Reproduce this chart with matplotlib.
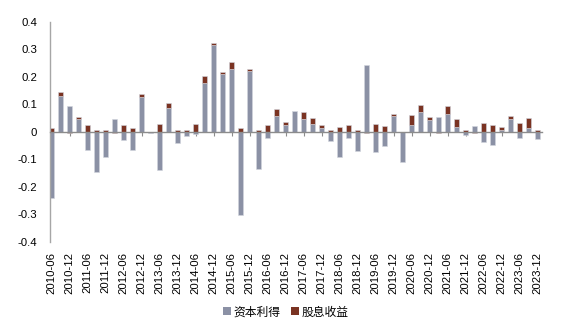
import numpy as np
import pandas as pd
import matplotlib
matplotlib.use("Agg")
import matplotlib.pyplot as plt
from matplotlib.patches import Patch

plt.rcParams['font.family'] = ['Liberation Sans', 'Noto Sans CJK SC', 'DejaVu Sans']

# Quarterly return decomposition, 2010-06 .. 2023-12
quarters = [p.strftime('%Y-%m') for p in pd.period_range('2010Q2', '2023Q4', freq='Q')]

capital_gain = [
    -0.240, 0.130, 0.092, 0.046, -0.067, -0.147, -0.092, 0.048, -0.030, -0.067,
    0.127, -0.006, -0.138, 0.085, -0.042, -0.015, -0.008, 0.177, 0.314, 0.208,
    0.227, -0.303, 0.219, -0.136, -0.024, 0.057, 0.025, 0.075, 0.045, 0.029,
    0.013, -0.034, -0.092, -0.021, -0.069, 0.241, -0.075, -0.051, 0.057, -0.108,
    0.025, 0.073, 0.043, 0.055, 0.065, 0.016, -0.010, 0.022, -0.039, -0.048,
    0.008, 0.047, -0.022, 0.015, -0.028,
]
dividend = [
    0.013, 0.015, -0.003, 0.007, 0.024, 0.008, 0.005, -0.003, 0.024, 0.014,
    0.009, 0.000, 0.027, 0.020, 0.006, 0.006, 0.028, 0.027, 0.007, 0.009,
    0.025, 0.012, 0.008, 0.005, 0.023, 0.027, 0.009, 0.000, 0.025, 0.021,
    0.010, 0.005, 0.018, 0.024, 0.006, -0.003, 0.028, 0.021, 0.007, 0.000,
    0.035, 0.025, 0.009, -0.003, 0.028, 0.029, 0.005, -0.003, 0.033, 0.025,
    0.009, 0.009, 0.031, 0.034, 0.005,
]
series_names = ['资本利得', '股息收益']
series_colors = ['#8B91A5', '#7A3322']

fig = plt.figure(figsize=(5.77, 3.27), dpi=100)
ax = fig.add_axes([49.5 / 577, 85 / 327, 492.5 / 577, 220.5 / 327])

x = np.arange(len(quarters))
pos_base = np.zeros(len(x))
neg_base = np.zeros(len(x))
for vals, color in zip([capital_gain, dividend], series_colors):
    v = np.asarray(vals)
    base = np.where(v >= 0, pos_base, neg_base)
    ax.bar(x, v, bottom=base, width=0.52, color=color,
           edgecolor='#D3D6DE', linewidth=0.4, zorder=2)
    pos_base = pos_base + np.clip(v, 0, None)
    neg_base = neg_base + np.clip(v, None, 0)

ax.set_xlim(-0.244, 54.48)
ax.set_ylim(-0.4, 0.4)
ax.set_yticks(np.arange(-0.4, 0.41, 0.1))
ax.set_yticklabels(['-0.4', '-0.3', '-0.2', '-0.1', '0', '0.1', '0.2', '0.3', '0.4'])
ax.tick_params(axis='y', length=0, pad=9, labelsize=8.2, labelcolor='#000000')

for s in ['top', 'right']:
    ax.spines[s].set_visible(False)
ax.spines['left'].set_color('#A6A6A6')
ax.spines['left'].set_linewidth(1.0)
ax.spines['bottom'].set_position(('data', 0))
ax.spines['bottom'].set_color('#8C8C8C')
ax.spines['bottom'].set_linewidth(1.0)
ax.spines['bottom'].set_zorder(3)

label_idx = x[::2]
ax.set_xticks(label_idx)
ax.tick_params(axis='x', direction='out', length=3, color='#8C8C8C', labelbottom=False)

sec = ax.secondary_xaxis(0.0)
sec.set_xticks(label_idx)
sec.set_xticklabels([quarters[i] for i in label_idx], rotation=90)
sec.tick_params(axis='x', length=0, pad=7, labelsize=8.2)
sec.spines['bottom'].set_visible(False)

handles = [Patch(facecolor=c, edgecolor='none') for c in series_colors]
fig.legend(handles, series_names, loc='center', bbox_to_anchor=(0.495, 0.046),
           ncol=2, frameon=False, fontsize=8.5, handlelength=0.7, handleheight=0.7,
           handletextpad=0.2, columnspacing=0.9, prop={'family': ['Noto Sans CJK SC'], 'size': 8.5})

fig.savefig('out.png', dpi=100)
